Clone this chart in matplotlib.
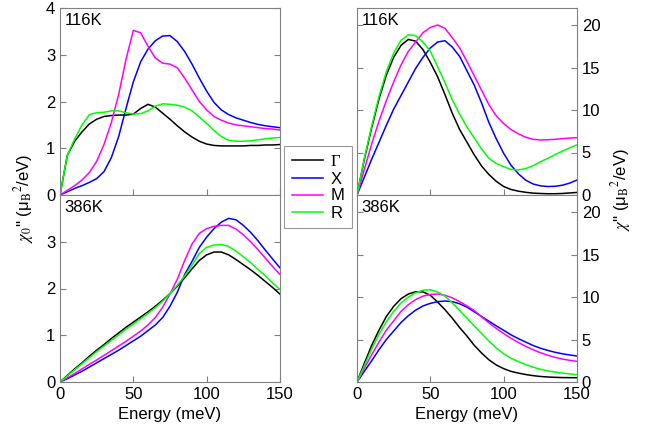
import numpy as np
import matplotlib
matplotlib.use("Agg")
import matplotlib.pyplot as plt

plt.rcParams['font.family'] = ['Liberation Sans', 'DejaVu Sans']
plt.rcParams['mathtext.fontset'] = 'stix'

energy = np.arange(0, 155, 5)
names = ["Γ", "X", "M", "R"]
colors = ["black", "#0000ff", "#ff00ff", "#00ff00"]

# chi_0'' at 116K (left top)
chi0_116_G = [0, 0.85, 1.15, 1.35, 1.52, 1.62, 1.68, 1.70, 1.71, 1.71, 1.73, 1.85, 1.94, 1.88, 1.75, 1.62,
              1.48, 1.35, 1.24, 1.15, 1.09, 1.06, 1.05, 1.05, 1.05, 1.05, 1.06, 1.06, 1.07, 1.07, 1.08]
chi0_116_X = [0, 0.07, 0.14, 0.20, 0.27, 0.35, 0.50, 0.80, 1.25, 1.85, 2.42, 2.85, 3.12, 3.30, 3.40, 3.41,
              3.28, 3.07, 2.80, 2.50, 2.22, 1.98, 1.82, 1.72, 1.65, 1.60, 1.55, 1.51, 1.48, 1.46, 1.44]
chi0_116_M = [0, 0.10, 0.20, 0.32, 0.48, 0.72, 1.08, 1.55, 2.15, 2.90, 3.52, 3.47, 3.18, 2.93, 2.82, 2.80,
              2.72, 2.50, 2.25, 2.00, 1.82, 1.68, 1.60, 1.54, 1.50, 1.48, 1.46, 1.44, 1.42, 1.41, 1.39]
chi0_116_R = [0, 0.85, 1.20, 1.50, 1.72, 1.76, 1.77, 1.80, 1.80, 1.76, 1.73, 1.74, 1.80, 1.90, 1.95, 1.94,
              1.92, 1.88, 1.80, 1.67, 1.53, 1.38, 1.25, 1.17, 1.15, 1.15, 1.16, 1.18, 1.20, 1.22, 1.23]

# chi_0'' at 386K (left bottom)
chi0_386_G = [0, 0.14, 0.28, 0.41, 0.55, 0.68, 0.80, 0.93, 1.05, 1.17, 1.28, 1.39, 1.50, 1.62, 1.75, 1.89,
              2.05, 2.23, 2.42, 2.60, 2.72, 2.78, 2.78, 2.72, 2.62, 2.51, 2.40, 2.28, 2.15, 2.02, 1.88]
chi0_386_X = [0, 0.07, 0.15, 0.23, 0.32, 0.41, 0.50, 0.59, 0.68, 0.78, 0.88, 0.98, 1.10, 1.22, 1.38, 1.62,
              1.92, 2.30, 2.58, 2.88, 3.10, 3.28, 3.42, 3.50, 3.47, 3.35, 3.20, 3.02, 2.82, 2.63, 2.44]
chi0_386_M = [0, 0.09, 0.18, 0.28, 0.38, 0.47, 0.57, 0.67, 0.77, 0.87, 0.98, 1.09, 1.22, 1.38, 1.60, 1.88,
              2.20, 2.60, 2.95, 3.18, 3.28, 3.33, 3.35, 3.35, 3.27, 3.15, 3.00, 2.83, 2.65, 2.47, 2.30]
chi0_386_R = [0, 0.13, 0.26, 0.39, 0.52, 0.65, 0.77, 0.89, 1.01, 1.13, 1.24, 1.35, 1.47, 1.59, 1.73, 1.89,
              2.07, 2.27, 2.50, 2.75, 2.88, 2.93, 2.94, 2.90, 2.80, 2.68, 2.55, 2.41, 2.27, 2.12, 1.98]

# chi'' at 116K (right top)
chi_116_G = [0, 4.2, 7.9, 11.3, 14.1, 16.2, 17.6, 18.3, 18.1, 17.1, 15.6, 13.9, 11.8, 9.6, 7.7, 6.2,
             4.7, 3.4, 2.4, 1.6, 1.0, 0.65, 0.45, 0.32, 0.22, 0.18, 0.15, 0.15, 0.18, 0.24, 0.30]
chi_116_X = [0, 2.1, 4.2, 6.2, 8.2, 10.1, 11.7, 13.3, 14.9, 16.2, 17.3, 18.0, 18.15, 17.4, 16.3, 14.6,
             12.9, 10.8, 8.5, 6.6, 4.9, 3.5, 2.5, 1.75, 1.3, 1.08, 1.0, 1.02, 1.15, 1.4, 1.76]
chi_116_M = [0, 3.0, 6.0, 8.7, 11.1, 13.3, 15.3, 16.9, 18.0, 19.1, 19.7, 20.0, 19.6, 18.5, 17.3, 15.7,
             14.0, 12.3, 10.6, 9.3, 8.4, 7.7, 7.2, 6.8, 6.55, 6.47, 6.5, 6.55, 6.62, 6.7, 6.75]
chi_116_R = [0, 4.3, 8.1, 11.6, 14.5, 16.7, 18.2, 18.85, 18.75, 18.0, 16.9, 15.1, 13.2, 11.2, 9.5, 8.0,
             6.7, 5.4, 4.3, 3.7, 3.33, 3.0, 2.95, 3.1, 3.45, 3.9, 4.3, 4.75, 5.15, 5.55, 5.9]

# chi'' at 386K (right bottom)
chi_386_G = [0, 2.2, 4.3, 6.1, 7.7, 8.9, 9.8, 10.35, 10.62, 10.6, 10.2, 9.4, 8.5, 7.5, 6.4, 5.4,
             4.3, 3.4, 2.6, 2.0, 1.57, 1.25, 1.05, 0.88, 0.75, 0.65, 0.59, 0.55, 0.52, 0.51, 0.5]
chi_386_X = [0, 1.25, 2.5, 3.8, 5.0, 6.0, 7.0, 7.8, 8.45, 8.95, 9.25, 9.45, 9.53, 9.45, 9.2, 8.8,
             8.25, 7.7, 7.15, 6.6, 6.08, 5.55, 5.1, 4.7, 4.3, 3.98, 3.72, 3.5, 3.32, 3.18, 3.06]
chi_386_M = [0, 1.6, 3.2, 4.7, 6.1, 7.2, 8.3, 9.1, 9.7, 10.1, 10.3, 10.35, 10.2, 9.9, 9.45, 8.95,
             8.4, 7.65, 6.95, 6.3, 5.7, 5.15, 4.65, 4.2, 3.8, 3.45, 3.15, 2.9, 2.7, 2.55, 2.43]
chi_386_R = [0, 1.9, 3.9, 5.6, 7.1, 8.3, 9.3, 10.0, 10.5, 10.8, 10.85, 10.6, 10.1, 9.3, 8.4, 7.5,
             6.6, 5.7, 4.8, 4.0, 3.33, 2.8, 2.4, 2.05, 1.75, 1.5, 1.32, 1.17, 1.05, 0.95, 0.86]

panels = [
    ([chi0_116_G, chi0_116_X, chi0_116_M, chi0_116_R], "116K"),
    ([chi0_386_G, chi0_386_X, chi0_386_M, chi0_386_R], "386K"),
    ([chi_116_G, chi_116_X, chi_116_M, chi_116_R], "116K"),
    ([chi_386_G, chi_386_X, chi_386_M, chi_386_R], "386K"),
]

fig = plt.figure(figsize=(6.62, 4.43), dpi=100)
W, H = 662.0, 443.0
boxes = [(60, 8), (60, 195), (357, 8), (357, 195)]
axes = []
for (x0, y0) in boxes:
    ax = fig.add_axes([x0 / W, 1 - (y0 + 187) / H, 220 / W, 187 / H])
    axes.append(ax)

spine_col = "#808080"
for i, (ax, (series, temp)) in enumerate(zip(axes, panels)):
    for s, c, n in zip(series, colors, names):
        ax.plot(energy, s, color=c, lw=1.1, label=n)
    ax.set_xlim(0, 150)
    ax.set_xticks([0, 50, 100, 150])
    for sp in ax.spines.values():
        sp.set_color(spine_col)
    ax.tick_params(direction="in", top=False, bottom=True, left=True, right=True,
                   color=spine_col, labelsize=12, length=4)
    ax.text(0.02, 0.975, temp, transform=ax.transAxes, ha="left", va="top", fontsize=12)
    if i in (0, 2):
        ax.tick_params(labelbottom=False)
    else:
        ax.set_xlabel("Energy (meV)", fontsize=12)
    if i in (0, 1):
        ax.set_ylim(0, 4)
        ax.set_yticks([0, 1, 2, 3, 4] if i == 0 else [0, 1, 2, 3])
    else:
        ax.set_ylim(0, 22)
        ax.set_yticks([0, 5, 10, 15, 20])
        ax.yaxis.tick_right()
        ax.tick_params(left=True, right=True, labelleft=False, labelright=True)

fig.text(24 / W, 1 - 198 / H, r"$\chi_0$'' (μ$_{\rm B}$$^2$/eV)", rotation=90,
         ha="center", va="center", fontsize=12)
fig.text(621 / W, 1 - 190 / H, r"$\chi$'' (μ$_{\rm B}$$^2$/eV)", rotation=90,
         ha="center", va="center", fontsize=12)

handles, labels = axes[0].get_legend_handles_labels()
leg = fig.legend(handles, labels, loc="upper left", bbox_to_anchor=(284 / W, 1 - 146 / H),
                 frameon=True, fancybox=False, fontsize=12, handlelength=1.9,
                 handletextpad=0.45, borderpad=0.45, labelspacing=0.12, borderaxespad=0)
leg.get_frame().set_edgecolor(spine_col)
leg.get_frame().set_linewidth(0.8)
leg.get_texts()[0].set_family(["Liberation Serif", "DejaVu Serif"])

fig.savefig("out.png", dpi=100)
